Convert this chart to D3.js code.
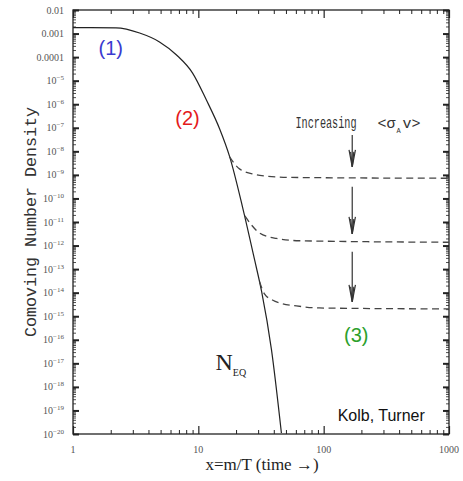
<!DOCTYPE html>
<html>
<head>
<meta charset="utf-8">
<script src="https://cdn.jsdelivr.net/npm/d3@7"></script>
<style>
  html, body { margin: 0; padding: 0; background: #fff; }
  svg { display: block; }
</style>
</head>
<body>
<svg id="chart" width="463" height="481"></svg>
<script>
// Equilibrium abundance N_EQ(x), x = m/T
const eqX = [1, 2.2, 3.4, 4.9, 6.7, 9.0, 11.6, 14.8, 17.8, 22.5, 28.1, 32, 38.3, 46];
const eqY = [1.78e-3, 1.74e-3, 1.05e-3, 4.4e-4, 1.23e-4, 2.1e-5, 1.5e-6, 8.9e-8, 5.8e-9, 4.4e-11, 2.5e-13, 1.1e-14, 3.9e-17, 1.1e-20];

// Freeze-out tracks for three annihilation cross sections
const fo1X = [17.7, 21.3, 28.1, 35, 53.3, 1000];
const fo1Y = [6.0e-9, 1.8e-9, 1.05e-9, 8.9e-10, 7.8e-10, 7.2e-10];
const fo2X = [23.5, 26.6, 30.8, 42, 64, 1000];
const fo2Y = [1.8e-11, 7.4e-12, 3.4e-12, 2.0e-12, 1.6e-12, 1.38e-12];
const fo3X = [30.8, 33.7, 39, 47, 60.6, 92, 1000];
const fo3Y = [2.95e-14, 8.9e-15, 4.9e-15, 3.4e-15, 2.75e-15, 2.24e-15, 2.04e-15];

// Arrows: x position, start and end values
const arrowX = 169;
const arrowFrom = [4.9e-8, 3.1e-10, 5.4e-13];
const arrowTo = [2.2e-9, 3.1e-12, 4.1e-15];

// Axis ticks
const xTickVals = [1, 10, 100, 1000];
const xTickLabels = ["1", "10", "100", "1000"];
const yDecades = d3.range(-20, -1); // -20 .. -2
const yPlainLabels = { "-2": "0.01", "-3": "0.001", "-4": "0.0001" };

const svg = d3.select("#chart");
const L = 73, R = 449, T = 10, B = 434;

const x = d3.scaleLog().domain([1, 1000]).range([L, R]);
const y = d3.scaleLog().domain([1e-20, 1e-2]).range([B, T]);

const ink = "#222";

// minor tick values
const xMinor = [];
for (let d = 0; d < 3; d++) for (let k = 2; k <= 9; k++) xMinor.push(k * Math.pow(10, d));
const yMinor = [];
for (let d = -20; d < -2; d++) for (let k = 2; k <= 9; k++) yMinor.push(k * Math.pow(10, d));
const yMajor = yDecades.map(e => Math.pow(10, e));

function styleAxis(g, w) {
  g.select(".domain").remove();
  g.selectAll("text").remove();
  g.selectAll("line").attr("stroke", ink).attr("stroke-width", w);
}

// bottom (ticks inward)
svg.append("g").attr("transform", `translate(0,${B})`)
  .call(d3.axisTop(x).tickValues(xTickVals).tickSize(8)).call(g => styleAxis(g, 1.2));
svg.append("g").attr("transform", `translate(0,${B})`)
  .call(d3.axisTop(x).tickValues(xMinor).tickSize(4)).call(g => styleAxis(g, 1));
// top
svg.append("g").attr("transform", `translate(0,${T})`)
  .call(d3.axisBottom(x).tickValues(xTickVals).tickSize(8)).call(g => styleAxis(g, 1.2));
svg.append("g").attr("transform", `translate(0,${T})`)
  .call(d3.axisBottom(x).tickValues(xMinor).tickSize(4)).call(g => styleAxis(g, 1));
// left
svg.append("g").attr("transform", `translate(${L},0)`)
  .call(d3.axisRight(y).tickValues(yMajor).tickSize(6)).call(g => styleAxis(g, 2));
svg.append("g").attr("transform", `translate(${L},0)`)
  .call(d3.axisRight(y).tickValues(yMinor).tickSize(3)).call(g => styleAxis(g, 0.8));
// right
svg.append("g").attr("transform", `translate(${R},0)`)
  .call(d3.axisLeft(y).tickValues(yMajor).tickSize(6)).call(g => styleAxis(g, 2));
svg.append("g").attr("transform", `translate(${R},0)`)
  .call(d3.axisLeft(y).tickValues(yMinor).tickSize(3)).call(g => styleAxis(g, 0.8));

// frame
svg.append("rect").attr("x", L).attr("y", T).attr("width", R - L).attr("height", B - T)
  .attr("fill", "none").attr("stroke", ink).attr("stroke-width", 1.3);

// x tick labels
svg.append("g").selectAll("text").data(xTickVals).join("text")
  .attr("x", d => x(d)).attr("y", B + 19)
  .attr("text-anchor", "middle")
  .attr("font-family", "Liberation Serif").attr("font-size", 10).attr("fill", "#555")
  .text((d, i) => xTickLabels[i]);

// y tick labels
const yl = svg.append("g").attr("font-family", "Liberation Serif").attr("fill", "#555");
yDecades.forEach(e => {
  const t = yl.append("text").attr("x", L - 9).attr("y", y(Math.pow(10, e)) + 3.5)
    .attr("text-anchor", "end").attr("font-size", 10);
  if (yPlainLabels[e]) {
    t.text(yPlainLabels[e]);
  } else {
    t.append("tspan").text("10");
    t.append("tspan").attr("dy", -4).attr("font-size", 7).text("\u2212" + (-e));
  }
});

// axis titles
svg.append("text")
  .attr("x", 262).attr("y", 470).attr("text-anchor", "middle")
  .attr("font-family", "Liberation Serif").attr("font-size", 17).attr("fill", "#222")
  .text("x=m/T (time \u2192)");
svg.append("text")
  .attr("transform", "translate(36,222) rotate(-90)").attr("text-anchor", "middle")
  .attr("font-family", "Liberation Mono").attr("font-size", 17).attr("fill", "#333")
  .attr("textLength", 230).attr("lengthAdjust", "spacingAndGlyphs")
  .text("Comoving Number Density");

// clip to plot area
svg.append("clipPath").attr("id", "plotclip").append("rect")
  .attr("x", L).attr("y", T).attr("width", R - L).attr("height", B - T);
const plot = svg.append("g").attr("clip-path", "url(#plotclip)");

const line = d3.line().x(d => x(d[0])).y(d => y(d[1])).curve(d3.curveMonotoneX);

plot.append("path").datum(d3.zip(eqX, eqY)).attr("d", line)
  .attr("fill", "none").attr("stroke", ink).attr("stroke-width", 1.2);

[[fo1X, fo1Y], [fo2X, fo2Y], [fo3X, fo3Y]].forEach(([xs, ys]) => {
  plot.append("path").datum(d3.zip(xs, ys)).attr("d", line)
    .attr("fill", "none").attr("stroke", "#444").attr("stroke-width", 1.3)
    .attr("stroke-dasharray", "7,4.5");
});

// arrows
arrowFrom.forEach((v, i) => {
  const ax = x(arrowX), y0 = y(v), y1 = y(arrowTo[i]);
  const g = plot.append("g").attr("stroke", "#333").attr("stroke-width", 1.2).attr("fill", "none");
  g.append("line").attr("x1", ax).attr("x2", ax).attr("y1", y0).attr("y2", y1);
  g.append("path").attr("d", `M${ax - 3.2},${y1 - 17}L${ax},${y1}L${ax + 3.2},${y1 - 17}`);
  g.append("path").attr("d", `M${ax - 1.6},${y1 - 15}L${ax},${y1}L${ax + 1.6},${y1 - 15}`);
});

// annotations
svg.append("text").attr("x", x(2.0)).attr("y", y(2.4e-4)).attr("dy", "0.35em")
  .attr("text-anchor", "middle").attr("font-family", "Liberation Sans").attr("font-size", 20)
  .attr("fill", "#3a3ad0").text("(1)");
svg.append("text").attr("x", x(8.2)).attr("y", y(2.6e-7)).attr("dy", "0.35em")
  .attr("text-anchor", "middle").attr("font-family", "Liberation Sans").attr("font-size", 20)
  .attr("fill", "#e41a1c").text("(2)");
svg.append("text").attr("x", x(182)).attr("y", y(1.6e-16)).attr("dy", "0.35em")
  .attr("text-anchor", "middle").attr("font-family", "Liberation Sans").attr("font-size", 20)
  .attr("fill", "#2ca02c").text("(3)");

const neq = svg.append("text").attr("x", x(13.7)).attr("y", y(Math.pow(10, -17.28)))
  .attr("font-family", "Liberation Serif").attr("font-size", 24).attr("fill", "#222");
neq.append("tspan").text("N");
neq.append("tspan").attr("dy", 6).attr("font-size", 10).text("EQ");

svg.append("text").attr("x", x(288)).attr("y", y(Math.pow(10, -19.19))).attr("dy", "0.35em")
  .attr("text-anchor", "middle").attr("font-family", "Liberation Sans").attr("font-size", 16)
  .attr("fill", "#111").text("Kolb, Turner");

// "Increasing <σ_A v>" label: narrow, tall lettering via vertical stretch
const incY = y(Math.pow(10, -7.01));
const incX = x(59.5);
const incG = svg.append("g").attr("font-family", "Liberation Mono").attr("fill", "#333");
incG.append("text").attr("transform", `translate(${incX},${incY}) scale(1,1.55)`)
  .attr("font-size", 10.2).text("Increasing");
incG.append("text").attr("x", incX + 82).attr("y", incY).attr("font-size", 15).text("<\u03C3");
incG.append("text").attr("x", incX + 101).attr("y", incY + 5).attr("font-size", 7).text("A");
incG.append("text").attr("x", incX + 107).attr("y", incY).attr("font-size", 15).text("v>");
</script>
</body>
</html>
